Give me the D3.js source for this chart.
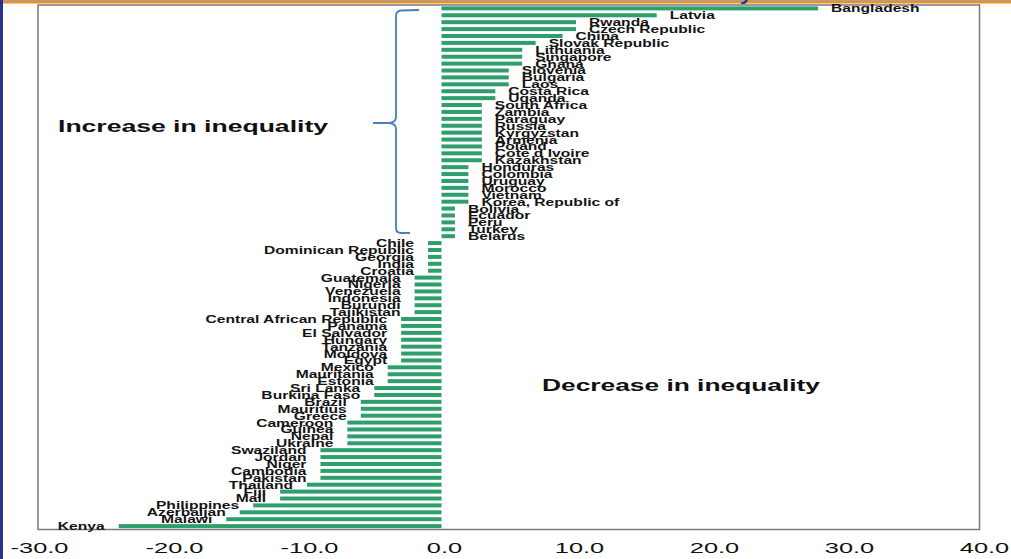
<!DOCTYPE html>
<html>
<head>
<meta charset="utf-8">
<script src="https://cdn.jsdelivr.net/npm/d3@7"></script>
<style>
  body { margin: 0; background: #fff; }
  svg { display: block; }
</style>
</head>
<body>
<svg id="chart"></svg>
<script>
// countries, top to bottom
const countries = ["Bangladesh","Latvia","Rwanda","Czech Republic","China","Slovak Republic",
  "Lithuania","Singapore","Ghana","Slovenia","Bulgaria","Laos","Costa Rica","Uganda",
  "South Africa","Zambia","Paraguay","Russia","Kyrgyzstan","Armenia","Poland","Cote d Ivoire",
  "Kazakhstan","Honduras","Colombia","Uruguay","Morocco","Vietnam","Korea, Republic of",
  "Bolivia","Ecuador","Peru","Turkey","Belarus",
  "Chile","Dominican Republic","Georgia","India","Croatia","Guatemala","Nigeria","Venezuela",
  "Indonesia","Burundi","Tajikistan","Central African Republic","Panama","El Salvador",
  "Hungary","Tanzania","Moldova","Egypt","Mexico","Mauritania","Estonia","Sri Lanka",
  "Burkina Faso","Brazil","Mauritius","Greece","Cameroon","Guinea","Nepal","Ukraine",
  "Swaziland","Jordan","Niger","Cambodia","Pakistan","Thailand","Fiji","Mali",
  "Philippines","Azerbaijan","Malawi","Kenya"];

// change in inequality
const changes = [28,16,10,10,9,7,
  6,6,6,5,5,5,4,4,
  3,3,3,3,3,3,3,3,
  3,2,2,2,2,2,2,
  1,1,1,1,1,
  -1,-1,-1,-1,-1,-2,-2,-2,
  -2,-2,-2,-3,-3,-3,
  -3,-3,-3,-3,-4,-4,-4,-5,
  -5,-6,-6,-6,-7,-7,-7,-7,
  -9,-9,-9,-9,-9,-10,-12,-12,
  -14,-15,-16,-24];

const tickValues = [-30,-20,-10,0,10,20,30,40];

const width = 1011;
const height = 559;
const box = {left: 38, top: 5, right: 979.5, bottom: 529.5};
const font = "'Liberation Sans', Arial, sans-serif";
const green = "#2e9e6c";
const stretch = 1.42;   // the picture is stretched sideways

const data = countries.map((c, i) => ({name: c, value: changes[i]}));

const svg = d3.select("#chart")
  .attr("width", width)
  .attr("height", height);

// slide decoration
svg.append("rect").attr("x", 0).attr("y", 0).attr("width", width).attr("height", 1)
  .attr("fill", "#9aa3b5");
svg.append("rect").attr("x", 0).attr("y", 1).attr("width", width).attr("height", 2.5)
  .attr("fill", "#f0901e");
svg.append("rect").attr("x", 0).attr("y", 0).attr("width", 3).attr("height", height)
  .attr("fill", "#26348f");
svg.append("text")
  .attr("x", 740).attr("y", -2)
  .attr("font-family", font).attr("font-size", 30).attr("fill", "#26348f")
  .text("y");

var x = d3.scaleLinear().domain([-30, 40]).range([box.left, box.right]);
var xTicks = d3.scaleLinear().domain([-30, 40]).range([39, 984]);
var y = d3.scaleBand().domain(countries).range([box.top, box.bottom])
  .paddingInner(0.42).paddingOuter(0.2);

// plot frame
svg.append("rect")
  .attr("x", box.left).attr("y", box.top)
  .attr("width", box.right - box.left).attr("height", box.bottom - box.top)
  .attr("fill", "none").attr("stroke", "#7a7a7a").attr("stroke-width", 1.5);

// bars
svg.append("g").selectAll("rect")
  .data(data)
  .enter()
  .append("rect")
  .attr("x", d => x(Math.min(0, d.value)))
  .attr("y", d => y(d.name))
  .attr("width", d => Math.abs(x(d.value) - x(0)))
  .attr("height", y.bandwidth())
  .attr("fill", green);

// country labels next to bar ends
var labels = svg.append("g").selectAll("g")
  .data(data)
  .enter()
  .append("g")
  .attr("transform", d => {
    var lx = d.value > 0 ? x(d.value) + 13 : x(d.value) - 14;
    return `translate(${lx},${y(d.name) + y.bandwidth() / 2})`;
  });

labels.append("text")
  .attr("transform", `scale(${stretch},1)`)
  .attr("text-anchor", d => d.value > 0 ? "start" : "end")
  .attr("dy", "0.36em")
  .attr("font-family", font)
  .attr("font-weight", "bold")
  .attr("font-size", 11)
  .attr("fill", "#151515")
  .text(d => d.name);

// value axis under the frame
var axis = svg.append("g")
  .attr("transform", "translate(0,543)")
  .call(d3.axisBottom(xTicks).tickValues(tickValues).tickSize(0).tickPadding(0)
    .tickFormat(d => d.toFixed(1)));
axis.select(".domain").remove();
axis.selectAll("text")
  .attr("y", 0)
  .attr("dy", "0.71em")
  .attr("transform", "scale(1.75,1)")
  .attr("font-family", font)
  .attr("font-size", 14.5)
  .attr("fill", "#111");

// curly brace for the positive group
var bx = 396;
var brace = d3.path();
brace.moveTo(419, 10);
brace.lineTo(401, 10.5);
brace.quadraticCurveTo(bx, 11, bx, 16);
brace.lineTo(bx, 117);
brace.quadraticCurveTo(bx, 122.5, 389, 123);
brace.lineTo(373, 123);
brace.moveTo(389, 123);
brace.quadraticCurveTo(bx, 123.5, bx, 129);
brace.lineTo(bx, 228);
brace.quadraticCurveTo(bx, 233, 401, 233);
brace.lineTo(410, 233);
svg.append("path")
  .attr("d", brace.toString())
  .attr("fill", "none")
  .attr("stroke", "#4a7ebb")
  .attr("stroke-width", 1.8);

// annotations
svg.append("text")
  .attr("x", 58).attr("y", 131.5)
  .attr("textLength", 270).attr("lengthAdjust", "spacingAndGlyphs")
  .attr("font-family", font).attr("font-weight", "bold").attr("font-size", 16)
  .attr("fill", "#111")
  .text("Increase in inequality");

svg.append("text")
  .attr("x", 542).attr("y", 391)
  .attr("textLength", 278).attr("lengthAdjust", "spacingAndGlyphs")
  .attr("font-family", font).attr("font-weight", "bold").attr("font-size", 16.5)
  .attr("fill", "#111")
  .text("Decrease in inequality");
</script>
</body>
</html>
